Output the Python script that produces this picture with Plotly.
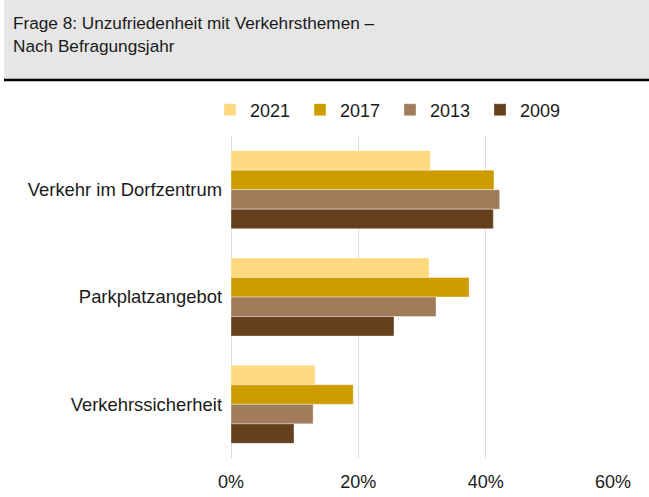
import plotly.graph_objects as go

categories = ["Verkehr im Dorfzentrum", "Parkplatzangebot", "Verkehrssicherheit"]
years = ["2021", "2017", "2013", "2009"]
values_2021 = [0.313, 0.311, 0.132]
values_2017 = [0.413, 0.374, 0.192]
values_2013 = [0.422, 0.322, 0.129]
values_2009 = [0.412, 0.256, 0.099]
colors = ["#FFD97F", "#CC9C00", "#A07C5B", "#66401E"]
tick_vals = [0, 0.2, 0.4, 0.6]
tick_text = ["0%", "20%", "40%", "60%"]
title_line1 = "Frage 8: Unzufriedenheit mit Verkehrsthemen –"
title_line2 = "Nach Befragungsjahr"

W, H = 649, 497
L, R, T, B = 231, 36, 136, 39
pw, ph = W - L - R, H - T - B

def px(x):
    return (x - L) / pw

def py(y):
    return (H - B - y) / ph

FONT = "Liberation Sans, Arial, sans-serif"

fig = go.Figure()
for name, vals, col in zip(years, [values_2021, values_2017, values_2013, values_2009], colors):
    fig.add_trace(go.Bar(
        y=categories, x=vals, name=name, orientation="h",
        marker=dict(color=col, line=dict(color="rgba(255,255,255,0.6)", width=0.6)),
    ))

fig.update_layout(
    width=W, height=H,
    margin=dict(l=L, r=R, t=T, b=B, autoexpand=False),
    paper_bgcolor="white", plot_bgcolor="white",
    barmode="group", bargap=0.273, bargroupgap=0,
    font=dict(family=FONT, size=18, color="#1a1a1a"),
    xaxis=dict(range=[0, 0.6], tickvals=tick_vals, ticktext=tick_text, automargin=False,
               showgrid=True, gridcolor="#D5DEE6", gridwidth=1.3,
               zeroline=True, zerolinecolor="#D5DEE6", zerolinewidth=1.3,
               showline=False, ticks="", ticklabelstandoff=11,
               tickfont=dict(size=18)),
    yaxis=dict(autorange="reversed", showgrid=False, zeroline=False, showline=False,
               automargin=False,
               ticks="", ticklabelstandoff=8, tickfont=dict(size=18.4)),
    showlegend=True,
    legend=dict(orientation="h", x=px(210), xanchor="left", y=py(110), yanchor="middle",
                entrywidth=45, entrywidthmode="pixels", font=dict(size=18),
                bgcolor="rgba(0,0,0,0)", itemclick=False),
    shapes=[
        dict(type="rect", xref="paper", yref="paper", x0=px(4), x1=px(649), y0=py(79), y1=py(0),
             fillcolor="#E6E6E6", line=dict(width=0), layer="below"),
        dict(type="line", xref="paper", yref="paper", x0=px(4), x1=px(649), y0=py(80), y1=py(80),
             line=dict(color="black", width=2.5)),
    ],
    annotations=[
        dict(text=title_line1, xref="paper", yref="paper", x=px(11), y=py(23), xanchor="left",
             yanchor="middle", showarrow=False, font=dict(size=17.2, color="#1a1a1a")),
        dict(text=title_line2, xref="paper", yref="paper", x=px(11), y=py(46), xanchor="left",
             yanchor="middle", showarrow=False, font=dict(size=17.2, color="#1a1a1a")),
    ],
)

fig.write_html("out.html", config={"displayModeBar": False},
               post_script="document.body.style.margin='0';document.body.style.overflow='hidden';")
